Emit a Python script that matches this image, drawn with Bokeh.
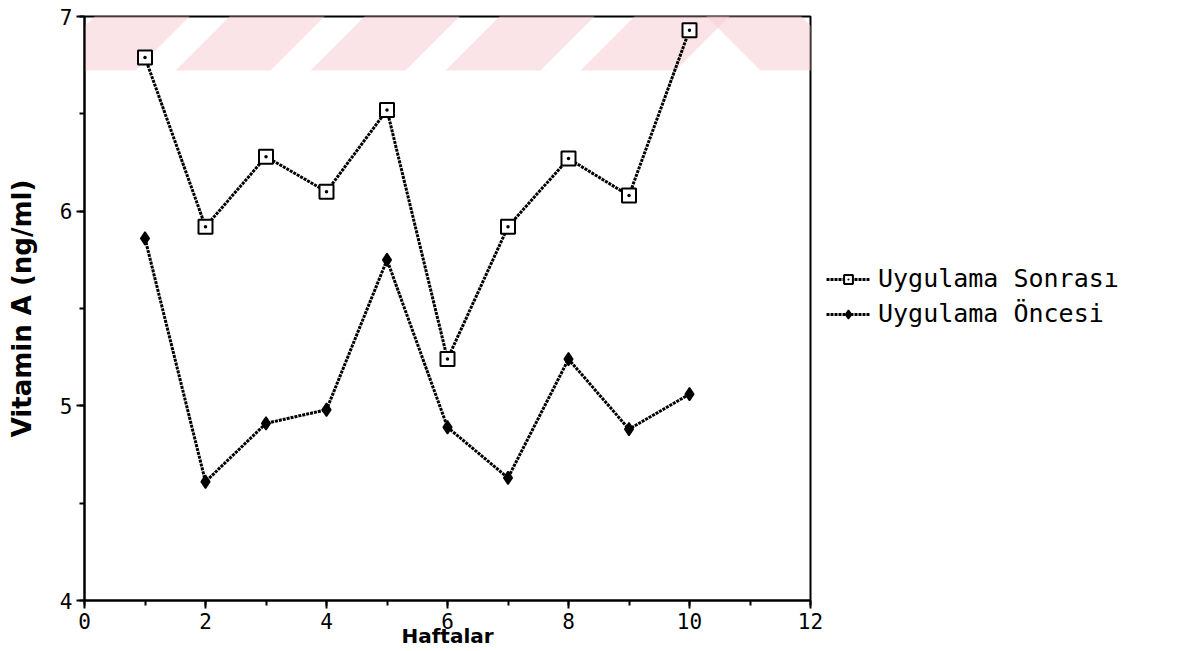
from bokeh.plotting import figure
from bokeh.models import (Range1d, SingleIntervalTicker, Legend, LegendItem,
                          PolyAnnotation)
from bokeh.embed import file_html
from bokeh.resources import INLINE

# ---- data ----
weeks = [1, 2, 3, 4, 5, 6, 7, 8, 9, 10]
sonrasi = [6.79, 5.92, 6.28, 6.10, 6.52, 5.24, 5.92, 6.27, 6.08, 6.93]
oncesi = [5.86, 4.61, 4.91, 4.98, 5.75, 4.89, 4.63, 5.24, 4.88, 5.06]
series_names = ["Uygulama Sonrası", "Uygulama Öncesi"]
x_title = "Haftalar"
y_title = "Vitamin A (ng/ml)"

MONO = "DejaVu Sans Mono"
BOLD = "DejaVu Sans"

p = figure(frame_width=726, frame_height=584,
           x_range=Range1d(0, 12), y_range=Range1d(4, 7),
           output_backend="svg", toolbar_location=None,
           min_border_left=84, min_border_top=16, min_border_bottom=48,
           min_border_right=20)
p.background_fill_color = "white"
p.border_fill_color = "white"
p.outline_line_color = "black"
p.outline_line_width = 2
p.xgrid.visible = False
p.ygrid.visible = False

# watermark stripes (decorative, canvas units)
band_top, band_bot = 0, 70
for a in [40, 175, 310, 445, 580]:
    p.add_layout(PolyAnnotation(xs=[a, a + 95, a + 165, a + 70],
                                ys=[band_bot, band_bot, band_top, band_top],
                                xs_units="canvas", ys_units="canvas",
                                fill_color="#f7cdd4", fill_alpha=0.55,
                                line_alpha=0, level="underlay"))
for a in [760, 895]:
    p.add_layout(PolyAnnotation(xs=[a, a + 95, a + 25, a - 70],
                                ys=[band_bot, band_bot, band_top, band_top],
                                xs_units="canvas", ys_units="canvas",
                                fill_color="#f7cdd4", fill_alpha=0.55,
                                line_alpha=0, level="underlay"))

p.xaxis.ticker = SingleIntervalTicker(interval=2, num_minor_ticks=2)
p.yaxis.ticker = SingleIntervalTicker(interval=1, num_minor_ticks=2)

for ax in (p.xaxis[0], p.yaxis[0]):
    ax.axis_line_width = 2
    ax.axis_line_color = "black"
    ax.major_tick_line_width = 2
    ax.minor_tick_line_width = 2
    ax.major_tick_out = 8
    ax.major_tick_in = 0
    ax.minor_tick_out = 5
    ax.minor_tick_in = 0
    ax.major_label_text_font = MONO
    ax.major_label_text_font_size = "21px"
    ax.major_label_text_color = "black"
    ax.axis_label_text_font = BOLD
    ax.axis_label_text_font_style = "bold"
    ax.axis_label_text_color = "black"

p.xaxis.major_label_standoff = 4
p.xaxis.axis_label = x_title
p.xaxis.axis_label_text_font_size = "20px"
p.xaxis.axis_label_standoff = -8
p.yaxis.major_label_standoff = 4
p.yaxis.axis_label = y_title
p.yaxis.axis_label_text_font_size = "26px"
p.yaxis.axis_label_standoff = 20

l1 = p.line(weeks, sonrasi, line_color="black", line_width=3, line_dash="3 1")
m1 = p.scatter(weeks, sonrasi, marker="square_dot", size=14, line_color="black",
               line_width=2, fill_color="white")
l2 = p.line(weeks, oncesi, line_color="black", line_width=3, line_dash="3 1")
m2 = p.scatter(weeks, oncesi, marker="diamond", size=13, line_color="black",
               line_width=1.5, fill_color="black")

legend = Legend(items=[LegendItem(label=series_names[0], renderers=[l1, m1]),
                       LegendItem(label=series_names[1], renderers=[l2, m2])],
                location=(16, 272), border_line_alpha=0, background_fill_alpha=0,
                glyph_width=44, glyph_height=22, label_standoff=8, spacing=6,
                padding=0, margin=0,
                label_text_font=MONO, label_text_font_size="25px",
                label_text_color="black")
p.add_layout(legend, "right")

open("out.html", "w").write(file_html(p, INLINE))
